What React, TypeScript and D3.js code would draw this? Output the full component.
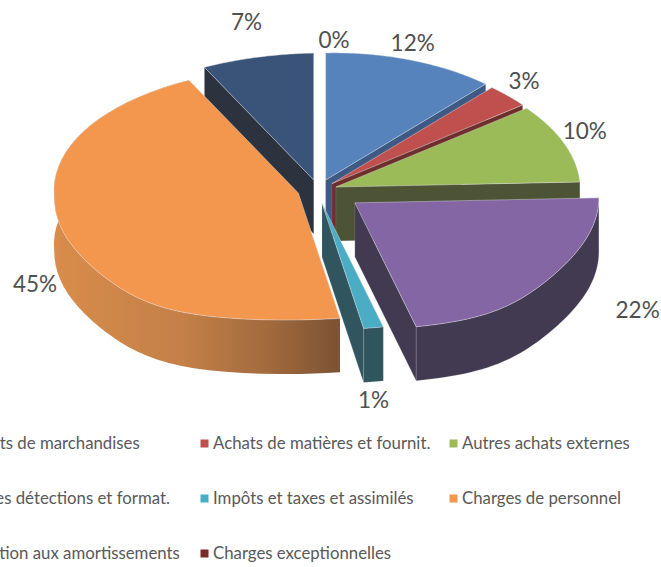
import React from 'react';
import * as d3 from 'd3';

// valeurs du camembert, sens horaire depuis midi
const categories = [
  'Achats de marchandises',
  'Achats de matières et fournit.',
  'Autres achats externes',
  'Autres détections et format.',
  'Impôts et taxes et assimilés',
  'Charges de personnel',
  'Dotation aux amortissements',
  'Charges exceptionnelles',
];
const values = [12, 3, 10, 22, 1, 45, 7, 0];

const topColors = ['#5683bc', '#c0504d', '#9bbb59', '#8366a3', '#4bacc6', '#f4974e', '#395478', '#772c2a'];
const wallColors = ['#3d5a85', '#6e2e2c', '#4c5435', '#413a50', '#31555e', '#8a5a32', '#2c323e', '#772c2a'];

// explosion de chaque part (fraction du rayon) et petit décalage vertical
const explode = [0.085, 0.076, 0.077, 0.196, 0.104, 0.084, 0.08, 0.03];
const lift = [0, 0, 0, -3, 0, 0, 0, 0];
// décalage des étiquettes depuis le milieu de l'arc
const labelNudge: [number, number][] = [[2, -17], [16, -15], [21, -12], [90, 30], [0, 72], [-29, 51], [-11, -35], [16, -19]];

const W = 661, H = 567;
const cx = 318, cy = 190;
const rx = 244, ry = 127;
const skew = 5;
const depth = 54;
const frontStretch = 0.38; // perspective : l'avant du disque s'élargit
const backPinch = 7;
const fontName = 'Lato, sans-serif';

const legendCols = [-37, 213, 462];
const legendRows = [443.5, 498.5, 553.5];

const slices = d3.pie<number>().sort(null).value(d => d)(values);
const lineGen = d3.line<[number, number]>();

// parts dont on voit la paroi du bord de fin / du bord de début
const endWall = [0, 1, 2, 3, 4];
const startWall = [6];
const withRim = [3, 4, 5];

export default function App() {
  const parts = slices.map(s => {
    const i = s.index;
    const mid = (s.startAngle + s.endAngle) / 2;
    const ax = cx + Math.sin(mid) * rx * explode[i];
    const ay = cy - Math.cos(mid) * ry * explode[i] + lift[i];
    const pt = (a: number, dz = 0): [number, number] => {
      const c = Math.cos(a);
      const stretch = 1 + frontStretch * Math.pow(Math.max(0, -c), 6);
      const pinch = c > 0 ? backPinch * Math.abs(Math.sin(2 * a)) : 0;
      return [
        ax + Math.sin(a) * rx * stretch - pinch,
        ay - c * ry - Math.sin(a) * skew + dz,
      ];
    };
    const steps = d3.range(0, 49).map(k => s.startAngle + (s.endAngle - s.startAngle) * k / 48);
    const arcTop = steps.map(a => pt(a));
    const arcBottom = steps.map(a => pt(a, depth)).reverse();
    const apex: [number, number] = [ax, ay];
    const apexLow: [number, number] = [ax, ay + depth];
    return {
      i,
      top: lineGen([apex, ...arcTop])! + 'Z',
      rim: lineGen([...arcTop, ...arcBottom])! + 'Z',
      wallEnd: lineGen([apex, pt(s.endAngle), pt(s.endAngle, depth), apexLow])! + 'Z',
      wallStart: lineGen([apex, pt(s.startAngle), pt(s.startAngle, depth), apexLow])! + 'Z',
      labelPos: pt(mid),
    };
  });

  // ordre de dessin, du fond vers l'avant
  const order = [6, 7, 0, 1, 2, 5, 3, 4];

  return (
    <svg width={W} height={H} viewBox={`0 0 ${W} ${H}`} style={{ position: 'absolute', left: 0, top: 0 }}>
      <defs>
        <linearGradient id="rimOrange" x1="0" x2="1" y1="0" y2="0">
          <stop offset="0" stopColor="#d98c4b" />
          <stop offset="0.45" stopColor="#c38048" />
          <stop offset="0.75" stopColor="#a26a3d" />
          <stop offset="1" stopColor="#7c5233" />
        </linearGradient>
      </defs>
      {order.map(i => {
        const p = parts[i];
        const wall = wallColors[i];
        if (values[i] === 0) return null;
        return (
          <g key={i}>
            {endWall.includes(i) && <path d={p.wallEnd} fill={wall} stroke="#c9ccd2" strokeOpacity={0.3} strokeWidth={0.6} />}
            {startWall.includes(i) && <path d={p.wallStart} fill={wall} stroke="#c9ccd2" strokeOpacity={0.3} strokeWidth={0.6} />}
            {withRim.includes(i) && (
              <path d={p.rim} fill={i === 5 ? 'url(#rimOrange)' : wall} stroke={i === 5 ? 'none' : '#c9ccd2'} strokeOpacity={0.3} strokeWidth={0.6} />
            )}
            <path d={p.top} fill={topColors[i]} stroke="#e3e5ea" strokeOpacity={0.6} strokeWidth={0.7} />
          </g>
        );
      })}
      {parts.map(p => (
        <text
          key={p.i}
          x={p.labelPos[0] + labelNudge[p.i][0]}
          y={p.labelPos[1] + labelNudge[p.i][1]}
          dy="0.35em"
          textAnchor="middle"
          fontFamily={fontName}
          fontSize={22.5}
          fill="#505050"
        >
          {values[p.i]}%
        </text>
      ))}
      {categories.map((c, i) => {
        const col = i % 3, row = Math.floor(i / 3);
        return (
          <g key={c}>
            <rect x={legendCols[col] - 12.5} y={legendRows[row] - 4} width={8} height={8} fill={topColors[i]} />
            <text x={legendCols[col]} y={legendRows[row]} dy="0.35em" fontFamily={fontName} fontSize={16.8} fill="#595959">
              {c}
            </text>
          </g>
        );
      })}
    </svg>
  );
}
